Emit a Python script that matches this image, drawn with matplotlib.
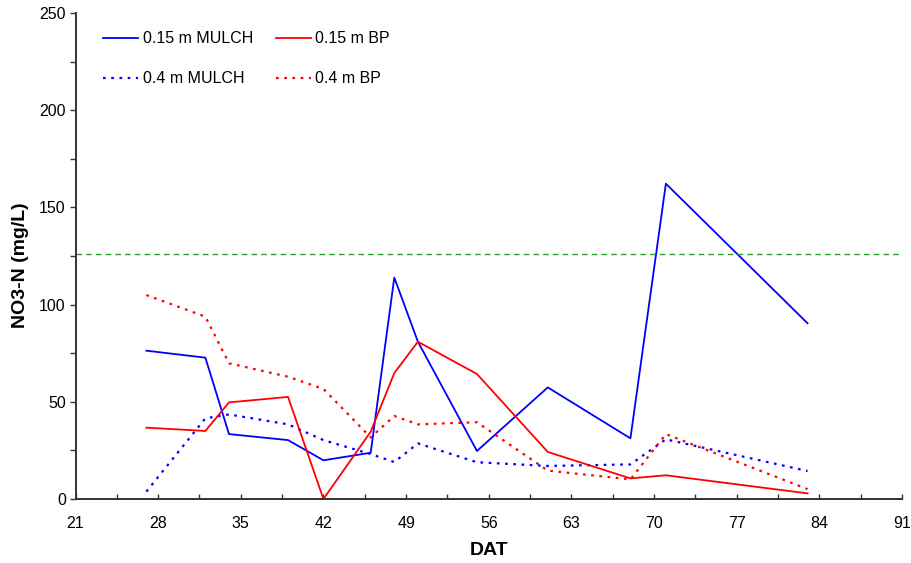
import matplotlib.pyplot as plt
from matplotlib.ticker import MultipleLocator

plt.rcParams['font.family'] = ['Liberation Sans', 'DejaVu Sans']

dat = [27, 32, 34, 39, 42, 46, 48, 50, 55, 61, 68, 71, 83]
mulch_015 = [76.3, 72.7, 33.4, 30.3, 19.9, 23.8, 113.9, 80.9, 24.7, 57.4, 31.2, 162.2, 90.4]
bp_015 = [36.7, 35.0, 49.7, 52.5, 0.0, 34.6, 64.8, 80.9, 64.3, 24.2, 10.6, 12.2, 2.9]
mulch_040 = [3.8, 41.5, 43.5, 38.4, 30.3, 23.1, 19.0, 28.6, 18.9, 17.0, 17.8, 30.7, 14.4]
bp_040 = [104.9, 93.8, 69.8, 62.9, 56.6, 31.7, 42.7, 38.4, 39.5, 14.6, 10.1, 33.4, 5.1]
limit = 126

fig = plt.figure(figsize=(9.11, 5.63), dpi=100)
ax = fig.add_axes([75.5 / 911, 1 - 499 / 563, (902 - 75.5) / 911, (499 - 13) / 563])

h1, = ax.plot(dat, mulch_015, color='blue', lw=1.3, label='0.15 m MULCH')
h3, = ax.plot(dat, mulch_040, color='blue', lw=1.6, ls=(0, (1.2, 2.5)), label='0.4 m MULCH')
h2, = ax.plot(dat, bp_015, color='red', lw=1.3, label='0.15 m BP')
h4, = ax.plot(dat, bp_040, color='red', lw=1.6, ls=(0, (1.2, 2.5)), label='0.4 m BP')
ax.axhline(limit, color='#2ca02c', lw=1.0, ls=(0, (4, 3)))

ax.set_xlim(21, 91)
ax.set_ylim(0, 250)
ax.xaxis.set_major_locator(MultipleLocator(7))
ax.xaxis.set_minor_locator(MultipleLocator(3.5))
ax.yaxis.set_major_locator(MultipleLocator(50))
ax.yaxis.set_minor_locator(MultipleLocator(25))

for side in ['top', 'right']:
    ax.spines[side].set_visible(False)
for side in ['left', 'bottom']:
    ax.spines[side].set_linewidth(1.4)
    ax.spines[side].set_color('#333333')

ax.tick_params(axis='x', which='both', direction='in', length=3.5, width=1, color='#333333',
               labelsize=11.5, pad=12)
ax.tick_params(axis='y', which='both', direction='out', length=4, width=1, color='#333333',
               labelsize=11.5, pad=3)

ax.set_xlabel('DAT', fontsize=14, fontweight='bold', labelpad=8)
ax.set_ylabel('NO3-N (mg/L)', fontsize=14, fontweight='bold')
ax.yaxis.set_label_coords(-0.056, 0.481)

ax.legend(handles=[h1, h3, h2, h4], ncol=2, frameon=False, loc='upper left',
          bbox_to_anchor=(0.0333, 0.962), borderpad=0, borderaxespad=0,
          fontsize=11.5, handlelength=2.2, handletextpad=0.3, labelspacing=1.55,
          columnspacing=1.4)

fig.savefig('out.png', dpi=100)
